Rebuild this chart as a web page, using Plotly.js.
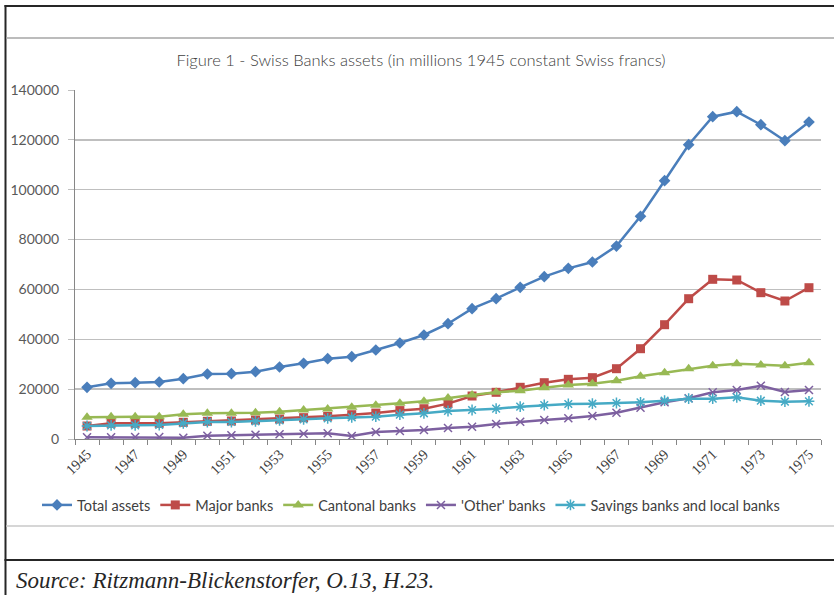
<!DOCTYPE html>
<html>
<head>
<meta charset="utf-8">
<script src="https://cdn.plot.ly/plotly-3.0.1.min.js"></script>
<style>
html,body{margin:0;padding:0;background:#fff;}
#chart{width:834px;height:595px;}
</style>
</head>
<body>
<div id="chart"></div>
<script>
var years = [1945,1946,1947,1948,1949,1950,1951,1952,1953,1954,1955,1956,1957,1958,1959,1960,1961,1962,1963,1964,1965,1966,1967,1968,1969,1970,1971,1972,1973,1974,1975];
var totalAssets = [20740,22340,22580,22860,24190,26070,26200,27000,28880,30360,32220,33030,35700,38500,41720,46250,52270,56280,60840,65110,68460,71000,77400,89330,103620,118060,129290,131300,126080,119660,127160];
var majorBanks = [5210,6290,6290,6290,6700,7100,7230,7620,8020,8560,9100,9750,10400,11400,12150,14200,17250,18730,20740,22590,23940,24600,28200,36220,45850,56280,64060,63780,58690,55360,60690];
var cantonalBanks = [8690,8960,8960,8960,9900,10300,10300,10560,10960,11630,12030,12700,13500,14300,15100,16450,17650,18730,19380,20580,21660,22190,23390,25140,26600,28200,29400,30200,29680,29400,30600];
var otherBanks = [680,680,800,800,530,1340,1470,1740,1870,2140,2270,1200,2810,3210,3610,4410,4950,6020,6940,7620,8290,9230,10560,12570,14710,16320,18730,19650,21380,18850,19650];
var savingsBanks = [5210,5480,5480,5620,6290,6820,6820,7100,7490,7890,8290,8700,8960,9760,10300,11230,11630,12170,12970,13640,14040,14170,14440,14710,15370,16180,16180,16720,15370,14970,15100];
var xTickLabels = ['1945','1947','1949','1951','1953','1955','1957','1959','1961','1963','1965','1967','1969','1971','1973','1975'];
var xTickVals = xTickLabels.map(Number);
var seriesNames = ['Total assets','Major banks','Cantonal banks',"'Other' banks",'Savings banks and local banks'];

function tr(name, y, color, symbol, size, open){
  var m = {symbol: symbol, size: size, color: color};
  if(open){ m.line = {color: color, width: 1.5}; }
  else { m.line = {color: color, width: 0}; }
  return {x: years, y: y, name: name, type: 'scatter', mode: 'lines+markers',
    line: {color: color, width: 2.5}, marker: m};
}
var data = [
  tr(seriesNames[0], totalAssets, '#4A7EBB', 'diamond', 9, false),
  tr(seriesNames[1], majorBanks, '#BE4B48', 'square', 9, false),
  tr(seriesNames[2], cantonalBanks, '#98B954', 'triangle-up', 10, false),
  tr(seriesNames[3], otherBanks, '#7D60A0', 'x-thin-open', 8, true),
  tr(seriesNames[4], savingsBanks, '#46AAC5', 'asterisk-open', 9, true)
];

function px(x){ return (x-75)/746; }
function py(y){ return (439-y)/349; }
var dark = '#262626', grey = '#A6A6A6';
var shapes = [
  {type:'line', xref:'paper', yref:'paper', x0:px(4.5), x1:px(840), y0:py(6), y1:py(6), line:{color:dark, width:2}},
  {type:'line', xref:'paper', yref:'paper', x0:px(5.5), x1:px(5.5), y0:py(5), y1:py(600), line:{color:dark, width:2}},
  {type:'line', xref:'paper', yref:'paper', x0:px(6), x1:px(840), y0:py(38), y1:py(38), line:{color:grey, width:1.5}},
  {type:'line', xref:'paper', yref:'paper', x0:px(6), x1:px(840), y0:py(526), y1:py(526), line:{color:'#C8C8C8', width:1.5}},
  {type:'line', xref:'paper', yref:'paper', x0:px(4.5), x1:px(840), y0:py(560), y1:py(560), line:{color:dark, width:2}}
];

var layout = {
  width: 834, height: 595,
  margin: {l: 75, r: 13, t: 90, b: 156},
  paper_bgcolor: '#fff', plot_bgcolor: '#fff',
  showlegend: true,
  title: {text: 'Figure 1 - Swiss Banks assets (in millions 1945 constant Swiss francs)',
    font: {family: 'Lato, sans-serif', size: 16.5, color: '#404040', weight: 300},
    x: 421/834, xanchor: 'center', y: 1 - 60/595, yanchor: 'middle', xref: 'container', yref: 'container'},
  xaxis: {
    range: [1944.5, 1975.5], tickmode: 'array', tickvals: xTickVals, ticktext: xTickLabels,
    tickangle: -45, ticks: '', showgrid: false, zeroline: false,
    showline: true, linecolor: '#868686', linewidth: 1,
    tickfont: {family: 'Liberation Serif, serif', size: 14.5, color: '#404040'},
    minor: {tickmode: 'linear', tick0: 1944.5, dtick: 1, ticks: 'outside', ticklen: 5, tickcolor: '#868686', showgrid: false},
    fixedrange: true
  },
  yaxis: {
    range: [0, 140000], tickmode: 'linear', tick0: 0, dtick: 20000,
    ticks: 'outside', ticklen: 6, tickcolor: '#BFBFBF',
    showgrid: true, gridcolor: '#BFBFBF', gridwidth: 1.5, zeroline: false,
    showline: true, linecolor: '#868686', linewidth: 1,
    tickformat: 'd', ticklabelstandoff: 6,
    tickfont: {family: 'Lato, sans-serif', size: 14, color: '#595959'},
    fixedrange: true
  },
  legend: {orientation: 'h', xref: 'container', yref: 'container', x: 411/834, xanchor: 'center',
    y: 1 - 505/595, yanchor: 'middle', font: {family: 'Lato, sans-serif', size: 14.5, color: '#404040'},
    itemwidth: 30, tracegroupgap: 0, bgcolor: 'rgba(0,0,0,0)'},
  shapes: shapes,
  annotations: [
    {xref: 'paper', yref: 'paper', x: px(14), y: py(580), xanchor: 'left', yanchor: 'middle', showarrow: false,
      text: '<i>Source: Ritzmann-Blickenstorfer, O.13, H.23.</i>',
      font: {family: 'Liberation Serif, serif', size: 23, color: '#262626'}}
  ]
};
Plotly.newPlot('chart', data, layout, {displayModeBar: false, staticPlot: true});
</script>
</body>
</html>
